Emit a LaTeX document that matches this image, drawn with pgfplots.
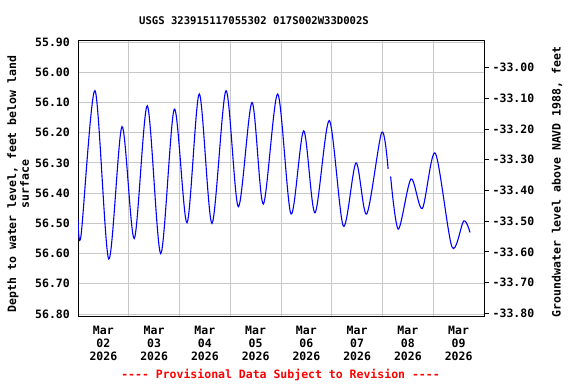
\documentclass[border=0pt]{standalone}
\usepackage{fontspec}
\setmainfont{DejaVu Sans Mono}[Ligatures=TeXOff]
\usepackage{pgfplots}
\pgfplotsset{compat=1.18}
\definecolor{gridgray}{HTML}{C8C8C8}
\definecolor{usgsblue}{HTML}{0000FF}
\definecolor{usgsred}{HTML}{FF0000}
\newcommand{\fnt}{\fontsize{11.5bp}{12.8bp}\selectfont\bfseries}
\begin{document}
\begin{tikzpicture}[x=1bp,y=1bp]
\useasboundingbox (0,0) rectangle (576,384);
\begin{axis}[
  at={(78bp,68bp)}, anchor=south west,
  scale only axis, width=406bp, height=276bp,
  xmin=0, xmax=8,
  ymin=55.8934, ymax=56.8066, y dir=reverse,
  axis line style={black, line width=1bp},
  xtick={0.5,1.5,2.5,3.5,4.5,5.5,6.5,7.5},
  xticklabels={{Mar\\02\\2026},{Mar\\03\\2026},{Mar\\04\\2026},{Mar\\05\\2026},{Mar\\06\\2026},{Mar\\07\\2026},{Mar\\08\\2026},{Mar\\09\\2026}},
  xticklabel style={align=center, font=\fnt, anchor=north, inner sep=0pt, yshift=-10bp},
  minor xtick={1,2,3,4,5,6,7},
  xminorgrids=true, xmajorgrids=false,
  major tick length=0pt, minor tick length=0pt,
  ytick={55.9,56.0,56.1,56.2,56.3,56.4,56.5,56.6,56.7,56.8},
  yticklabels={55.90,56.00,56.10,56.20,56.30,56.40,56.50,56.60,56.70,56.80},
  yticklabel style={font=\fnt, anchor=east, inner sep=0pt, xshift=-8bp},
  ymajorgrids=true,
  grid style={gridgray, line width=1bp},
  minor grid style={gridgray, line width=1bp},
  clip=true,
]
\addplot[usgsblue, line width=1.1bp, smooth, tension=0.5] coordinates {
(0.000,56.485) (0.060,56.540) (0.335,56.061) (0.605,56.618) (0.867,56.180)
(1.109,56.550) (1.366,56.111) (1.630,56.600) (1.898,56.122) (2.148,56.498)
(2.390,56.072) (2.640,56.500) (2.916,56.061) (3.159,56.445) (3.429,56.100)
(3.651,56.436) (3.935,56.072) (4.197,56.469) (4.447,56.194) (4.670,56.465)
(4.952,56.160) (5.228,56.509) (5.478,56.300) (5.689,56.469) (5.984,56.199)
(6.110,56.320)
};
\addplot[usgsblue, line width=1.1bp, smooth, tension=0.5] coordinates {
(6.160,56.345) (6.311,56.519) (6.562,56.353) (6.784,56.451) (7.040,56.268)
(7.369,56.578) (7.600,56.492) (7.724,56.530)
};
\end{axis}
\begin{axis}[
  at={(78bp,68bp)}, anchor=south west,
  scale only axis, width=406bp, height=276bp,
  xmin=0, xmax=8,
  ymin=-33.8088, ymax=-32.9098,
  axis x line=none,
  axis y line*=right,
  axis line style={black, line width=1bp},
  ytick={-33.8,-33.7,-33.6,-33.5,-33.4,-33.3,-33.2,-33.1,-33.0},
  yticklabels={-33.80,-33.70,-33.60,-33.50,-33.40,-33.30,-33.20,-33.10,-33.00},
  tick align=outside, major tick length=5bp,
  tick style={black, line width=1bp},
  yticklabel style={font=\fnt, anchor=west, inner sep=0pt, xshift=3.5bp},
]
\addplot[draw=none] coordinates {(0,-33.5)};
\end{axis}
\node[font=\fontsize{10.6bp}{12bp}\selectfont\bfseries] at (254,363) {USGS 323915117055302 017S002W33D002S};
\node[rotate=90, align=center, font=\fnt] at (18.3,200) {Depth to water level, feet below land\\surface};
\node[rotate=90, font=\fnt] at (557,202) {Groundwater level above NAVD 1988, feet};
\node[font=\fnt, text=usgsred] at (280.5,9) {---- Provisional Data Subject to Revision ----};
\end{tikzpicture}
\end{document}
